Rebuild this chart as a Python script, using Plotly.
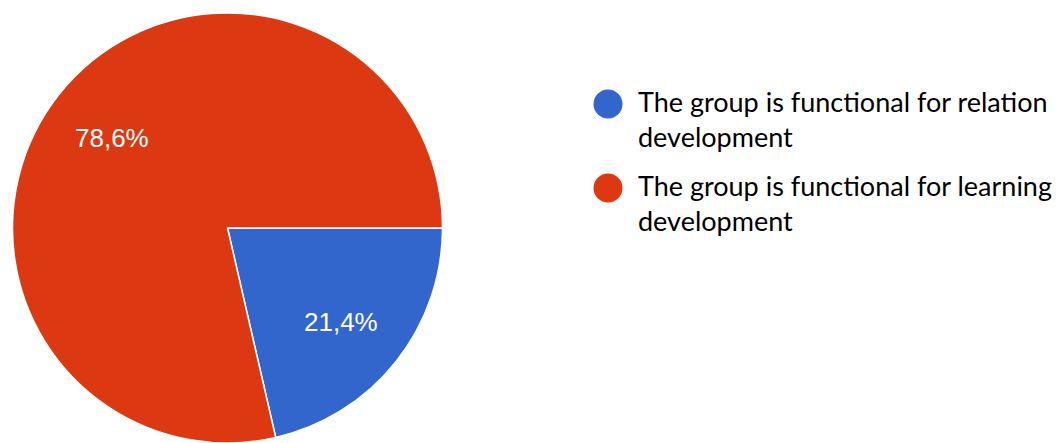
import plotly.graph_objects as go

# Survey answers and their shares (percent)
answers = [
    "The group is functional for relation development",
    "The group is functional for learning development",
]
shares = [21.4, 78.6]
slice_colors = ["#3366cc", "#dc3912"]

# Legend text wrapped over two lines per entry
legend_lines = [
    ["The group is functional for relation", "development"],
    ["The group is functional for learning", "development"],
]

W, H = 1062, 443


def px_x(x):
    return x / W


def px_y(y):
    # pixel rows counted from the top -> paper fraction from the bottom
    return (H - y) / H


fig = go.Figure(
    go.Pie(
        labels=answers,
        values=shares,
        marker=dict(colors=slice_colors, line=dict(color="white", width=1.5)),
        sort=False,
        direction="clockwise",
        rotation=90,
        textinfo="none",
        hovertemplate="%{label}<br>%{percent}<extra></extra>",
        showlegend=False,
        domain=dict(x=[px_x(12.5), px_x(442.5)], y=[0, 430 / H]),
    )
)

# Percentage labels inside the slices
label_pos = [(341, 322), (112, 138)]
annotations = []
for share, (lx, ly) in zip(shares, label_pos):
    annotations.append(
        dict(
            x=px_x(lx), y=px_y(ly), xref="paper", yref="paper",
            text=f"{share:.1f}%".replace(".", ","),
            showarrow=False, xanchor="center", yanchor="middle",
            font=dict(family="Liberation Sans, Arial, sans-serif", size=26, color="white"),
        )
    )

# Hand-built legend with round swatches
shapes = []
entry_tops = [104, 188]
line_gap = 35
for color, lines, cy in zip(slice_colors, legend_lines, entry_tops):
    r = 14.5
    shapes.append(
        dict(
            type="circle", xref="paper", yref="paper",
            x0=px_x(608 - r), x1=px_x(608 + r),
            y0=px_y(cy + r), y1=px_y(cy - r),
            fillcolor=color, line=dict(width=0),
        )
    )
    for i, line in enumerate(lines):
        annotations.append(
            dict(
                x=px_x(636), y=px_y(cy - 3 + i * line_gap), xref="paper", yref="paper",
                text=line, showarrow=False, xanchor="left", yanchor="middle",
                font=dict(family="Lato, sans-serif", size=27, color="#000000"),
            )
        )

fig.update_layout(
    width=W, height=H,
    margin=dict(l=0, r=0, t=0, b=0),
    paper_bgcolor="white", plot_bgcolor="white",
    annotations=annotations, shapes=shapes,
)

fig.write_html("out.html")
